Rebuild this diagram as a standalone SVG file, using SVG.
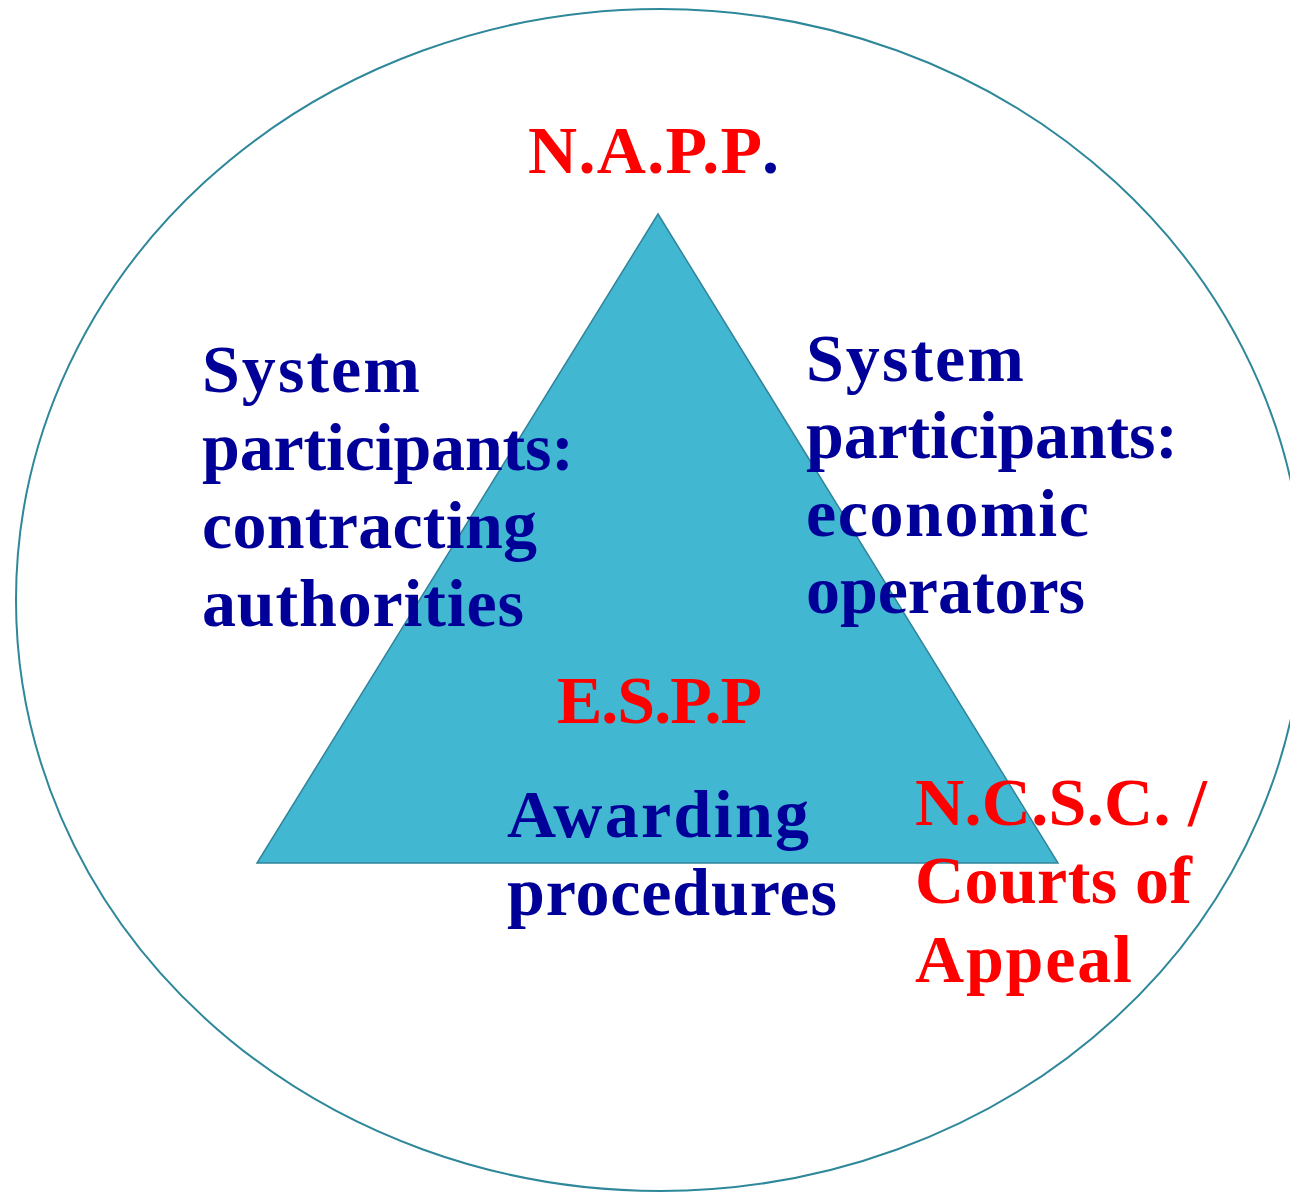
<svg xmlns="http://www.w3.org/2000/svg" width="1290" height="1192" viewBox="0 0 1290 1192">
  <style>
    .lbl { font-family: "Liberation Serif", "Times New Roman", serif; font-weight: bold; font-size: 68px; }
    .blue { fill: #000099; }
    .red { fill: #FF0000; }
  </style>
  <rect width="1290" height="1192" fill="#FFFFFF"/>
  <!-- outer boundary of the public procurement system -->
  <ellipse id="system-boundary" cx="660" cy="600" rx="644" ry="591" fill="none" stroke="#2E889A" stroke-width="2"/>
  <!-- central triangle -->
  <polygon id="triangle" points="658,214 1058,863 257,863" fill="#41B7D1" stroke="#31849B" stroke-width="1.5" stroke-linejoin="miter"/>

  <g id="napp">
    <text class="lbl red" x="528" y="173" textLength="234" lengthAdjust="spacing">N.A.P.P</text>
    <text class="lbl blue" x="762" y="173">.</text>
  </g>
  <g id="contracting-authorities">
    <text class="lbl blue" x="202" y="392" textLength="218" lengthAdjust="spacing">System</text>
    <text class="lbl blue" x="202" y="470" textLength="372" lengthAdjust="spacing">participants:</text>
    <text class="lbl blue" x="202" y="548" textLength="335" lengthAdjust="spacing">contracting</text>
    <text class="lbl blue" x="202" y="626" textLength="322" lengthAdjust="spacing">authorities</text>
  </g>
  <g id="economic-operators">
    <text class="lbl blue" x="806" y="381" textLength="218" lengthAdjust="spacing">System</text>
    <text class="lbl blue" x="806" y="458" textLength="372" lengthAdjust="spacing">participants:</text>
    <text class="lbl blue" x="806" y="536" textLength="283" lengthAdjust="spacing">economic</text>
    <text class="lbl blue" x="806" y="613" textLength="279" lengthAdjust="spacing">operators</text>
  </g>
  <g id="espp">
    <text class="lbl red" x="557" y="723" textLength="205" lengthAdjust="spacing">E.S.P.P</text>
  </g>
  <g id="awarding-procedures">
    <text class="lbl blue" x="507" y="837" textLength="302" lengthAdjust="spacing">Awarding</text>
    <text class="lbl blue" x="507" y="915" textLength="330" lengthAdjust="spacing">procedures</text>
  </g>
  <g id="ncsc">
    <text class="lbl red" x="915" y="825" textLength="292" lengthAdjust="spacing">N.C.S.C. /</text>
    <text class="lbl red" x="915" y="903" textLength="277" lengthAdjust="spacing">Courts of</text>
    <text class="lbl red" x="915" y="982" textLength="217" lengthAdjust="spacing">Appeal</text>
  </g>
</svg>
